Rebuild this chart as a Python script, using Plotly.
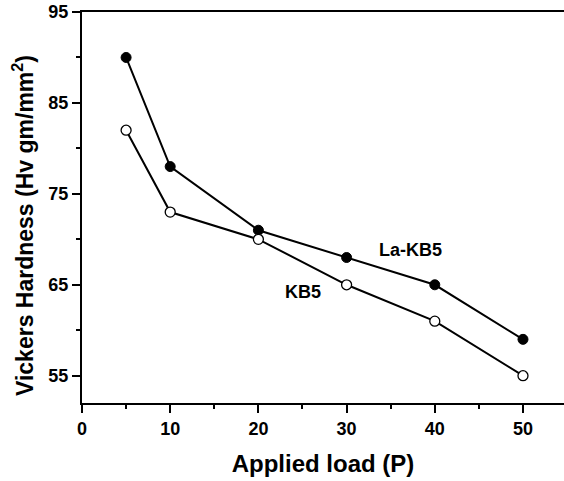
import plotly.graph_objects as go

load = [5, 10, 20, 30, 40, 50]
la_kb5 = [90, 78, 71, 68, 65, 59]
kb5 = [82, 73, 70, 65, 61, 55]
x_ticks = [0, 10, 20, 30, 40, 50]
y_ticks = [55, 65, 75, 85, 95]

FONT = "Liberation Sans, Arial, sans-serif"

fig = go.Figure()
fig.add_trace(go.Scatter(
    x=load, y=la_kb5, mode="lines+markers", name="La-KB5",
    line=dict(color="black", width=2),
    marker=dict(symbol="circle", size=10, color="black", line=dict(color="black", width=1)),
))
fig.add_trace(go.Scatter(
    x=load, y=kb5, mode="lines+markers", name="KB5",
    line=dict(color="black", width=2),
    marker=dict(symbol="circle", size=10, color="white", line=dict(color="black", width=1.3)),
))

fig.add_annotation(x=37.2, y=68.8, text="<b>La-KB5</b>", showarrow=False,
                   font=dict(family=FONT, size=18, color="black"))
fig.add_annotation(x=25.1, y=64.25, text="<b>KB5</b>", showarrow=False,
                   font=dict(family=FONT, size=18, color="black"))

# y-axis title placed as rotated annotation (matches reference offset)
fig.add_annotation(
    xref="paper", yref="paper", x=(23 - 82) / 482, y=(403 - 226) / 391,
    xanchor="center", yanchor="middle", textangle=-90, showarrow=False,
    text="<b>Vickers Hardness (Hv gm/mm<sup>2</sup>)</b>",
    font=dict(family=FONT, size=23, color="black"),
)

fig.update_layout(
    width=564, height=481,
    margin=dict(l=82, r=0, t=12, b=78, autoexpand=False),
    paper_bgcolor="white", plot_bgcolor="white",
    showlegend=False,
    font=dict(family=FONT, color="black"),
)
fig.update_xaxes(
    range=[0, 54.65], tickvals=x_ticks, ticktext=["<b>%d</b>" % v for v in x_ticks],
    automargin=False,
    showgrid=False, zeroline=False,
    showline=True, linecolor="black", linewidth=2, mirror=True,
    ticks="outside", ticklen=8, tickwidth=1.5, tickcolor="black",
    minor=dict(ticks="outside", ticklen=4, tickwidth=1.5, tickcolor="black", dtick=5, tick0=0, showgrid=False),
    tickfont=dict(family=FONT, size=18, color="black"),
    title=dict(text="<b>Applied load (P)</b>", font=dict(family=FONT, size=24, color="black"), standoff=18),
)
fig.update_yaxes(
    range=[52, 95], tickvals=y_ticks, ticktext=["<b>%d</b>" % v for v in y_ticks],
    automargin=False,
    showgrid=False, zeroline=False,
    showline=True, linecolor="black", linewidth=2, mirror=False,
    ticks="outside", ticklen=8, tickwidth=1.5, tickcolor="black",
    minor=dict(ticks="outside", ticklen=4, tickwidth=1.5, tickcolor="black", dtick=5, tick0=55, showgrid=False),
    tickfont=dict(family=FONT, size=18, color="black"),
)

fig.write_html(
    "out.html",
    config={"displayModeBar": False},
    post_script="document.body.style.margin='0';document.body.style.overflow='hidden';",
)
